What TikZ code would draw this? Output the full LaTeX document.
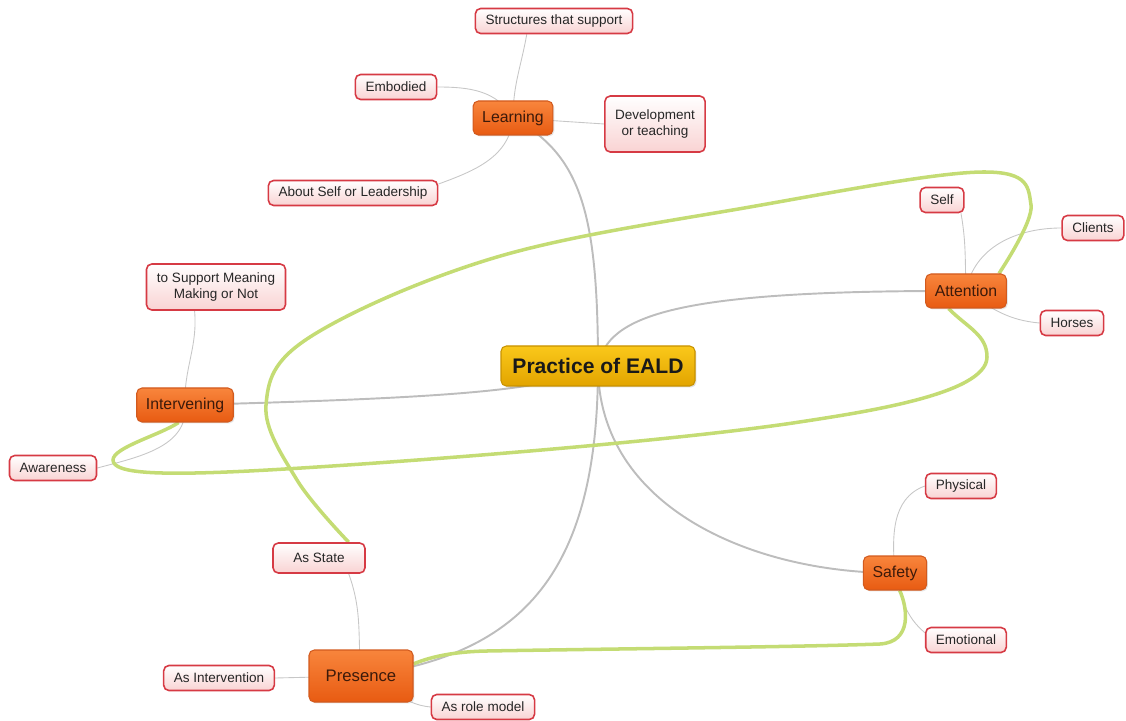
\documentclass[tikz,border=0pt]{standalone}
\usepackage{fontspec}
\setmainfont{Liberation Sans}
\usetikzlibrary{backgrounds,shadows}
\definecolor{rootTop}{HTML}{FAC81A}
\definecolor{rootBot}{HTML}{E2A400}
\definecolor{rootLine}{HTML}{C89200}
\definecolor{topTop}{HTML}{F8853C}
\definecolor{topBot}{HTML}{E85B12}
\definecolor{topLine}{HTML}{D25A1E}
\definecolor{topText}{HTML}{3C1A0A}
\definecolor{leafBot}{HTML}{F9D3D3}
\definecolor{leafLine}{HTML}{D63A44}
\definecolor{branchGray}{HTML}{BDBDBD}
\definecolor{relGreen}{HTML}{C4DC74}
\begin{document}
\begin{tikzpicture}[
  root/.style={draw=rootLine,top color=rootTop,bottom color=rootBot,rounded corners=3pt,line width=0.6pt,
    minimum width=3.88cm,minimum height=0.8cm,font=\fontsize{12}{14}\selectfont\bfseries,text=black!90,
    drop shadow={shadow xshift=0.8pt,shadow yshift=-0.8pt,opacity=0.25}},
  topic/.style={draw=topLine,top color=topTop,bottom color=topBot,rounded corners=3pt,line width=0.6pt,
    minimum height=0.68cm,inner xsep=5.2pt,font=\fontsize{9}{11}\selectfont,text=topText,
    drop shadow={shadow xshift=0.8pt,shadow yshift=-0.8pt,opacity=0.2}},
  leaf/.style={draw=leafLine,top color=white,bottom color=leafBot,rounded corners=3pt,line width=0.9pt,
    minimum height=0.5cm,inner xsep=5.8pt,font=\fontsize{7.7}{9.5}\selectfont,text=black!85,align=center},
  branch/.style={draw=branchGray,line width=1.1pt},
  twig/.style={draw=branchGray!85,line width=0.5pt},
  rel/.style={draw=relGreen,line width=2pt}]
\useasboundingbox (0,0) rectangle (22.52,14.4);

\node (c) at (11.96,7.08)[root]{Practice of EALD};

\node (learn) at (10.26,12.04)[topic]{Learning};
\node (struct) at (11.08,13.98)[leaf]{Structures that support};
\node (embod) at (7.92,12.66)[leaf]{Embodied};
\node (devel) at (13.10,11.92)[leaf,minimum width=2cm,minimum height=1.12cm]{Development\\or teaching};
\node (about) at (7.06,10.54)[leaf]{About Self or Leadership};

\node (att) at (19.32,8.58)[topic]{Attention};
\node (self) at (18.84,10.40)[leaf]{Self};
\node (clients) at (21.86,9.84)[leaf]{Clients};
\node (horses) at (21.44,7.94)[leaf]{Horses};

\node (interv) at (3.70,6.30)[topic]{Intervening};
\node (meaning) at (4.32,8.66)[leaf,minimum width=2.78cm,minimum height=0.92cm]{to Support Meaning\\Making or Not};
\node (aware) at (1.06,5.04)[leaf]{Awareness};

\node (safety) at (17.90,2.94)[topic]{Safety};
\node (phys) at (19.22,4.68)[leaf]{Physical};
\node (emot) at (19.32,1.60)[leaf]{Emotional};

\node (pres) at (7.22,0.88)[topic,minimum width=2.08cm,minimum height=1.04cm,font=\fontsize{9.5}{11}\selectfont]{Presence};
\node (state) at (6.38,3.24)[leaf,minimum width=1.84cm,minimum height=0.6cm]{As State};
\node (asint) at (4.38,0.84)[leaf]{As Intervention};
\node (role) at (9.66,0.26)[leaf]{As role model};

\begin{scope}[on background layer]
\draw[branch] (c.center) .. controls (11.96,10.2) and (11.6,11.3) .. (learn.center);
\draw[branch] (c.center) .. controls (12.15,8.1) and (13.5,8.6) .. (att.center);
\draw[branch] (c.center) .. controls (11.0,6.62) and (9.5,6.45) .. (interv.center);
\draw[branch] (c.center) to[out=-90,in=180] (safety.center);
\draw[branch] (c.center) .. controls (11.96,3.0) and (10.5,1.3) .. (pres.center);

\draw[twig] (learn.center) to[out=90,in=-100] (struct.206);
\draw[twig] (learn.center) to[out=120,in=0] (embod.east);
\draw[twig] (learn.center) -- (devel.west);
\draw[twig] (learn.center) to[out=-95,in=20] (about.6);
\draw[twig] (att.center) to[out=92,in=-80] (self.-35);
\draw[twig] (att.center) to[out=80,in=180] (clients.west);
\draw[twig] (att.center) to[out=-35,in=175] (horses.west);
\draw[twig] (interv.center) to[out=92,in=-85] (meaning.228);
\draw[twig] (interv.center) to[out=-85,in=15] (aware.east);
\draw[twig] (safety.center) to[out=95,in=200] (phys.west);
\draw[twig] (safety.center) to[out=-75,in=140] (emot.170);
\draw[twig] (pres.center) to[out=95,in=-70] (state.-28);
\draw[twig] (pres.center) -- (asint.east);
\draw[twig] (pres.center) to[out=-15,in=175] (role.west);

\draw[rel] plot[smooth,tension=0.6] coordinates {(state.28) (5.94,4.80) (5.32,6.30) (6.20,7.66)
  (9.94,9.26) (15.0,10.26) (19.66,10.96) (20.62,10.3) (att.28)};
\draw[rel] (att.225) .. controls (19.36,7.84) and (19.74,7.7) .. (19.74,7.26)
  .. controls (19.74,6.5) and (17.16,6.14) .. (15.86,5.94)
  .. controls (13.2,5.55) and (8.0,5.15) .. (5.36,5.0)
  .. controls (3.2,4.88) and (2.26,4.92) .. (2.26,5.2)
  .. controls (2.26,5.45) and (3.2,5.7) .. (interv.250);
\draw[rel] (pres.13) .. controls (8.7,1.3) and (9.2,1.37) .. (9.74,1.38)
  .. controls (12,1.42) and (16,1.46) .. (17.6,1.52)
  .. controls (18.25,1.56) and (18.15,2.25) .. (safety.285);
\end{scope}
\end{tikzpicture}
\end{document}
